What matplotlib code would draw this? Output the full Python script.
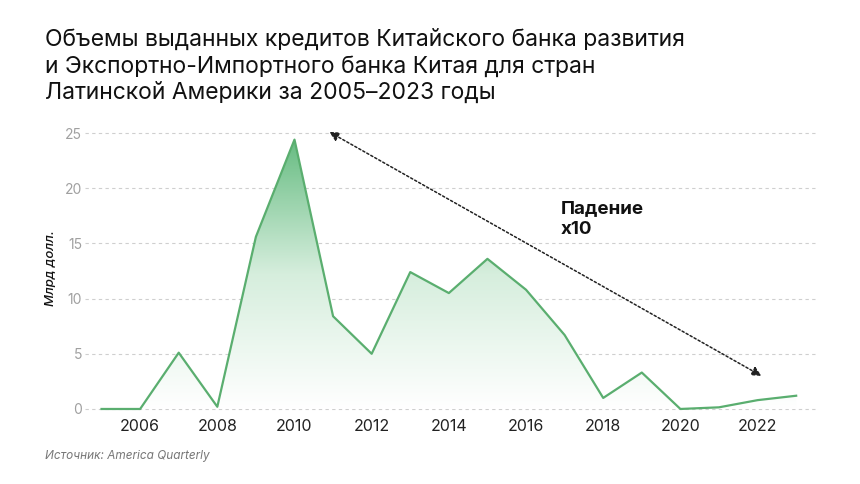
import matplotlib.pyplot as plt
import numpy as np
from matplotlib.patches import Polygon
from matplotlib.colors import LinearSegmentedColormap

plt.rcParams['font.family'] = ['Inter', 'DejaVu Sans']

years = list(range(2005, 2024))
credits = [0, 0, 5.1, 0.2, 15.6, 24.4, 8.4, 5.0, 12.4, 10.5, 13.6, 10.8, 6.7, 1.0, 3.3, 0, 0.15, 0.8, 1.2]
xticks = [2006, 2008, 2010, 2012, 2014, 2016, 2018, 2020, 2022]
yticks = [0, 5, 10, 15, 20, 25]

title = ('Объемы выданных кредитов Китайского банка развития\n'
         'и Экспортно-Импортного банка Китая для стран\n'
         'Латинской Америки за 2005–2023 годы')

line_color = '#5aae6f'

fig = plt.figure(figsize=(8.6, 4.84), dpi=100)
ax = fig.add_axes([0.099, 0.1436, 0.851, 0.6044])
ax.set_xlim(2004.575, 2023.54)
ax.set_ylim(-0.5, 26)

# gradient fill under the line
cmap = LinearSegmentedColormap.from_list('g', ['#ffffff', '#d6eedd', '#67bc82'])
grad = np.linspace(0, 1, 256).reshape(-1, 1)
img = ax.imshow(grad, extent=[years[0], years[-1], 0, max(credits)], origin='lower',
                aspect='auto', cmap=cmap, zorder=1)
poly = Polygon(list(zip(years, credits)) + [(years[-1], 0), (years[0], 0)],
               closed=True, facecolor='none', edgecolor='none')
ax.add_patch(poly)
img.set_clip_path(poly)

ax.plot(years, credits, color=line_color, linewidth=1.6, zorder=3)

ax.set_yticks(yticks)
ax.set_xticks(xticks)
ax.grid(axis='y', color='#cfcfcf', linestyle=(0, (3, 3)), linewidth=0.8)
ax.set_axisbelow(True)
for s in ax.spines.values():
    s.set_visible(False)
ax.tick_params(axis='y', length=0, labelsize=10, labelcolor='#a0a0a0', pad=2)
ax.tick_params(axis='x', length=0, labelsize=11.5, labelcolor='#222222', pad=3)
ax.set_ylabel('Млрд долл.', fontsize=9.5, style='italic', fontweight='medium',
              color='#111111', labelpad=6)

ax.annotate('', xy=(2010.9, 25.1), xytext=(2022.1, 3.0),
            arrowprops=dict(arrowstyle='<|-|>', linestyle=(0, (1.5, 1.5)), color='#222222',
                            linewidth=1.1, mutation_scale=14, shrinkA=0, shrinkB=0))
ax.text(2016.9, 17.2, 'Падение\nх10', fontsize=13.5, fontweight='bold', color='#111111',
        va='center', ha='left', linespacing=1.35)

fig.text(0.052, 0.94, title, fontsize=16.5, color='#111111', va='top', ha='left', linespacing=1.25)
fig.text(0.052, 0.058, 'Источник: America Quarterly', fontsize=8.5, style='italic',
         color='#777777', va='center', ha='left')

fig.savefig('out.png', dpi=100)
